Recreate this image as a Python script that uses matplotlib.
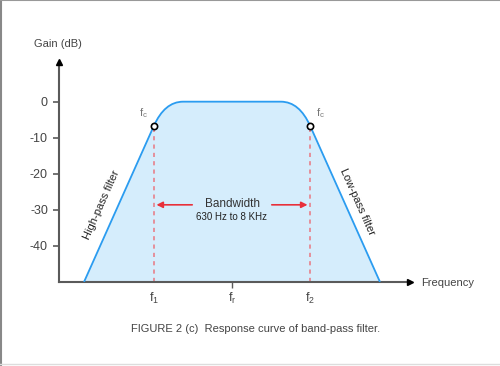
import matplotlib.pyplot as plt
from matplotlib.path import Path
from matplotlib.patches import PathPatch
from matplotlib.lines import Line2D

plt.rcParams['font.family'] = ['Liberation Sans', 'DejaVu Sans']

# response outline: straight skirts with rounded knees (quadratic control points)
freq = [25, 94.7, 105.6, 124, 222, 240.4, 251.3, 321]
gain = [-50, -6.8, 0, 0, 0, 0, -6.8, -50]
codes = [Path.MOVETO, Path.LINETO, Path.CURVE3, Path.CURVE3,
         Path.LINETO, Path.CURVE3, Path.CURVE3, Path.LINETO]

f1, fr, f2 = 94.7, 173, 251.3
fc_gain = -6.8
y_ticks = [0, -10, -20, -30, -40]
x_labels = [r'$\mathregular{f_1}$', r'$\mathregular{f_r}$', r'$\mathregular{f_2}$']
bw_gain = -28.6

line_col = '#2b9cf0'
fill_col = '#d5edfc'
axis_col = '#5a5a5a'
red = '#e8303a'
text_col = '#333333'

fig = plt.figure(figsize=(5, 3.66), dpi=100)
ax = fig.add_axes([59 / 500, 84 / 366, 351 / 500, 220 / 366])
ax.set_xlim(0, 351)
ax.set_ylim(-50, 11)

# filled area under the response
verts = list(zip(freq, gain))
fill_path = Path(verts + [(freq[-1], -50), (freq[0], -50)],
                 codes + [Path.LINETO, Path.CLOSEPOLY])
ax.add_patch(PathPatch(fill_path, facecolor=fill_col, edgecolor='none', zorder=1))
ax.add_patch(PathPatch(Path(verts, codes), facecolor='none', edgecolor=line_col,
                       lw=1.3, zorder=3))

# cutoff markers and dashed drops
for f in (f1, f2):
    ax.plot([f, f], [-50, fc_gain], ls=(0, (2.5, 2.5)), color='#e8808a', lw=1.2, zorder=2)
ax.plot([f1, f2], [fc_gain, fc_gain], 'o', ms=4.5, mfc='white', mec='black',
        mew=1.2, zorder=4, ls='none')
ax.text(f1 - 10, fc_gain + 3.7, r'$\mathregular{f_c}$', fontsize=8, color='#777777',
        ha='center', va='center')
ax.text(f2 + 10, fc_gain + 3.7, r'$\mathregular{f_c}$', fontsize=8, color='#777777',
        ha='center', va='center')

# bandwidth arrows
ax.annotate('', xy=(f1, bw_gain), xytext=(136, bw_gain),
            arrowprops=dict(arrowstyle='-|>', color=red, lw=1.2, mutation_scale=9))
ax.annotate('', xy=(f2, bw_gain), xytext=(210, bw_gain),
            arrowprops=dict(arrowstyle='-|>', color=red, lw=1.2, mutation_scale=9))
ax.text(fr, bw_gain + 0.3, 'Bandwidth', fontsize=8.5, color=text_col, ha='center',
        va='center')
ax.text(fr, -32, '630 Hz to 8 KHz', fontsize=7, color='#222222', ha='center',
        va='center')

ax.text(43, -28.7, 'High-pass filter', fontsize=8, color='#222222', rotation=66,
        ha='center', va='center')
ax.text(298, -27.8, 'Low-pass filter', fontsize=8, color='#222222', rotation=-66,
        ha='center', va='center')

# axes
for s in ('top', 'right'):
    ax.spines[s].set_visible(False)
for s in ('left', 'bottom'):
    ax.spines[s].set_color(axis_col)
    ax.spines[s].set_linewidth(1.5)
ax.plot(0, 11, '^', color='black', ms=5, clip_on=False, zorder=5)
ax.plot(351, -50, '>', color='black', ms=5, clip_on=False, zorder=5)

ax.set_yticks(y_ticks)
ax.set_yticklabels([str(v) for v in y_ticks])
ax.tick_params(axis='y', direction='out', length=4, width=1.2, color=axis_col,
               labelsize=9, labelcolor='#444444', pad=4)
ax.set_xticks([fr])
ax.set_xticklabels([''])
ax.tick_params(axis='x', direction='out', length=4, width=1, color=axis_col)
for f, lab in zip([f1, fr, f2], x_labels):
    ax.text(f, -54.5, lab, fontsize=9, color='#444444', ha='center', va='center',
            clip_on=False)

fig.text(58 / 500, 1 - 44 / 366, 'Gain (dB)', fontsize=8, color='#444444',
         ha='center', va='center')
fig.text(421 / 500, 1 - 283 / 366, 'Frequency', fontsize=8, color='#444444',
         ha='left', va='center')
fig.text(256 / 500, 1 - 329 / 366, 'FIGURE 2 (c)  Response curve of band-pass filter.',
         fontsize=8, color='#444444', ha='center', va='center')

# page frame
fig.add_artist(Line2D([0.002, 0.002], [0, 1], color='#888888', lw=1.5,
                      transform=fig.transFigure))
fig.add_artist(Line2D([0, 1], [0.999, 0.999], color='#999999', lw=1.5,
                      transform=fig.transFigure))
fig.add_artist(Line2D([0, 1], [1 - 364 / 366, 1 - 364 / 366], color='#dddddd', lw=1,
                      transform=fig.transFigure))

fig.savefig('out.png', dpi=100)
